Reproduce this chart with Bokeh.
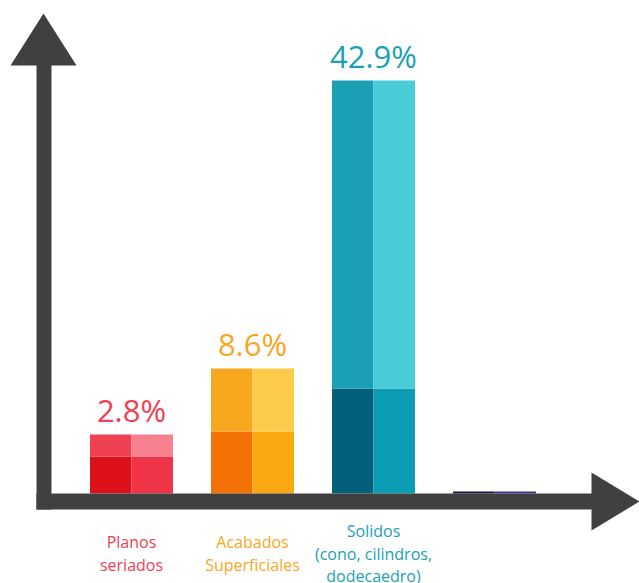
from bokeh.plotting import figure
from bokeh.models import Range1d, ColumnDataSource
from bokeh.core.properties import value
from bokeh.embed import file_html
from bokeh.resources import INLINE

# ---- data ----
categories = ["Planos\nseriados", "Acabados\nSuperficiales",
              "Solidos\n(cono, cilindros,\ndodecaedro)", ""]
pct_labels = ["2.8%", "8.6%", "42.9%", ""]
bar_heights = [59, 125, 413, 2]        # displayed bar heights (chart units)
lower_heights = [37, 62, 105, 2]       # height of the darker lower block

lower_left_colors = ["#dc111a", "#f47106", "#03607b", "#1b1446"]
lower_right_colors = ["#ef3447", "#f9a90f", "#0a9db3", "#3a338e"]
upper_left_colors = ["#ef4152", "#f8a81f", "#1aa0b5", "#1b1446"]
upper_right_colors = ["#f7818e", "#fccb49", "#49cbd8", "#3a338e"]
text_colors = ["#ef4054", "#f8a723", "#1ca0b5", "#1ca0b5"]

AXIS_COLOR = "#404040"
FONT = "Open Sans"

# ---- layout ----
W, H = 639, 583
PX_PER_CAT = 121.0
X0_PX = 131.0            # centre of first category, in figure pixels
Y0_PX = 493.0            # baseline (value 0), in figure pixels from top


def fx(px):  # figure pixel -> x data
    return (px - X0_PX) / PX_PER_CAT


def fy(py):  # figure pixel (from top) -> y data
    return Y0_PX - py


p = figure(width=W, height=H, output_backend="svg", toolbar_location=None,
           x_range=Range1d(fx(0), fx(W)), y_range=Range1d(fy(H), fy(0)),
           min_border=0)
p.axis.visible = False
p.grid.visible = False
p.outline_line_color = None
p.background_fill_color = "white"
p.border_fill_color = "white"

n = len(bar_heights)
xs = list(range(n))
half = 0.343
src = ColumnDataSource(dict(
    x=xs,
    left=[x - half for x in xs],
    right=[x + half for x in xs],
    top=bar_heights,
    mid=lower_heights,
    bottom=[0] * n,
    ll=lower_left_colors, lr=lower_right_colors,
    ul=upper_left_colors, ur=upper_right_colors,
    lab=pct_labels, lab_y=[h + 25 for h in bar_heights], tc=text_colors,
))

p.quad(left="left", right="x", bottom="bottom", top="mid", source=src,
       fill_color="ll", line_color=None)
p.quad(left="x", right="right", bottom="bottom", top="mid", source=src,
       fill_color="lr", line_color=None)
p.quad(left="left", right="x", bottom="mid", top="top", source=src,
       fill_color="ul", line_color=None)
p.quad(left="x", right="right", bottom="mid", top="top", source=src,
       fill_color="ur", line_color=None)

p.text(x="x", y="lab_y", text="lab", source=src, text_color="tc",
       text_align="center", text_baseline="alphabetic",
       text_font=value(FONT), text_font_size="31px")

# category labels, one glyph row per line, vertically centred
cx, cy, ct, cc = [], [], [], []
LINE = 22.5
for i, lab in enumerate(categories):
    if not lab:
        continue
    lines = lab.split("\n")
    m = len(lines)
    for k, line in enumerate(lines):
        cx.append(i)
        cy.append(-(60 + (k - (m - 1) / 2) * LINE))
        ct.append(line)
        cc.append(text_colors[i])
p.text(x=cx, y=cy, text=ct, text_color=cc, text_align="center",
       text_baseline="alphabetic", text_font=value(FONT),
       text_font_size="16px")

# axis arrows (figure pixel geometry)
v_arrow = [(36, 509), (51, 509), (51, 65), (76, 65), (43, 13), (10, 65), (36, 65)]
h_arrow = [(36, 493), (591, 493), (591, 472), (639, 501), (591, 530),
           (591, 509), (36, 509)]
for poly in (v_arrow, h_arrow):
    p.patch([fx(a) for a, b in poly], [fy(b) for a, b in poly],
            fill_color=AXIS_COLOR, line_color=None)

open("out.html", "w").write(file_html(p, INLINE))
